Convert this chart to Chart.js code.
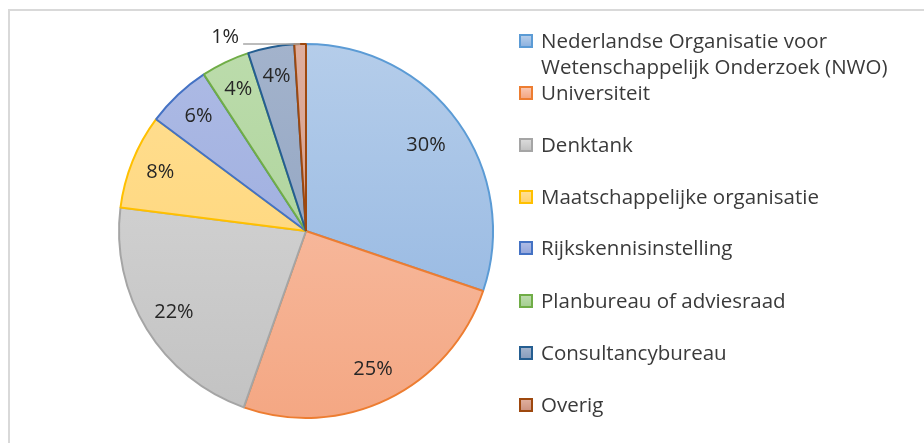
<!DOCTYPE html>
<html>
<head>
<meta charset="utf-8">
<script src="https://cdn.jsdelivr.net/npm/chart.js@4.4.1/dist/chart.umd.min.js"></script>
<style>
  html, body { margin: 0; padding: 0; background: #fff; }
  #wrap { position: relative; width: 924px; height: 443px; overflow: hidden; font-family: "Open Sans", sans-serif; }
  #frame { position: absolute; left: 8px; top: 9px; width: 1000px; height: 1000px; border-top: 2px solid #d9d9d9; border-left: 2px solid #d9d9d9; box-sizing: border-box; }
  #cv { position: absolute; left: 0; top: 0; }
  #legend { position: absolute; left: 519px; top: 0; }
  .item { position: absolute; left: 0; white-space: nowrap; color: #3a3a3a; font-size: 20.5px; line-height: 26px; }
  .box { position: absolute; left: 0; width: 14px; height: 14px; box-sizing: border-box; border: 2px solid; }
  .txt { position: absolute; left: 22px; }
</style>
</head>
<body>
<div id="wrap">
  <div id="frame"></div>
  <canvas id="cv" width="924" height="443"></canvas>
  <div id="legend"></div>
</div>
<script>
// ---- data ----
const categories = [
  "Nederlandse Organisatie voor Wetenschappelijk Onderzoek (NWO)",
  "Universiteit",
  "Denktank",
  "Maatschappelijke organisatie",
  "Rijkskennisinstelling",
  "Planbureau of adviesraad",
  "Consultancybureau",
  "Overig"
];
const legendLines = [
  ["Nederlandse Organisatie voor", "Wetenschappelijk Onderzoek (NWO)"],
  ["Universiteit"],
  ["Denktank"],
  ["Maatschappelijke organisatie"],
  ["Rijkskennisinstelling"],
  ["Planbureau of adviesraad"],
  ["Consultancybureau"],
  ["Overig"]
];
const shares = [30.2, 25.2, 21.6, 8.2, 5.6, 4.2, 4.0, 1.0];

// ---- styles ----
const fillTop    = ["#b5cdea", "#f9c6b0", "#dadada", "#ffdf94", "#aebbe5", "#bcdcac", "#a3b3cc", "#dfae9d"];
const fillBottom = ["#8eb3e0", "#f4a783", "#c2c2c2", "#ffd370", "#95a7dc", "#a6cf92", "#8a9ebd", "#cd9482"];
const borders    = ["#5b9bd5", "#ed7d31", "#a5a5a5", "#ffc000", "#4472c4", "#70ad47", "#255e91", "#9e480e"];
const labelRadiusFactor = [0.79, 0.82, 0.83, 0.84, 0.84, 0.84, 0.84, 0];

// legend (HTML text)
const legend = document.getElementById('legend');
const rowTops = [27, 79, 131, 183, 234, 287, 339, 391];
legendLines.forEach((lines, i) => {
  const it = document.createElement('div');
  it.className = 'item';
  it.style.top = rowTops[i] + 'px';
  const b = document.createElement('div');
  b.className = 'box';
  b.style.top = '7px';
  b.style.borderColor = borders[i];
  b.style.background = 'linear-gradient(' + fillTop[i] + ',' + fillBottom[i] + ')';
  it.appendChild(b);
  const t = document.createElement('div');
  t.className = 'txt';
  t.innerHTML = lines.join('<br>');
  it.appendChild(t);
  legend.appendChild(it);
});

const total = shares.reduce((a, b) => a + b, 0);

const labelPlugin = {
  id: 'pieLabels',
  afterDatasetsDraw(chart) {
    const ctx = chart.ctx;
    const meta = chart.getDatasetMeta(0);
    ctx.save();
    ctx.font = '20px "Open Sans", sans-serif';
    ctx.fillStyle = '#262626';
    ctx.textBaseline = 'middle';
    meta.data.forEach((arc, i) => {
      const pct = Math.round(shares[i] / total * 100) + '%';
      const mid = (arc.startAngle + arc.endAngle) / 2;
      if (labelRadiusFactor[i] > 0) {
        const r = arc.outerRadius * labelRadiusFactor[i];
        ctx.textAlign = 'center';
        ctx.fillText(pct, arc.x + Math.cos(mid) * r, arc.y + Math.sin(mid) * r);
      } else {
        const px = arc.x + Math.cos(mid) * arc.outerRadius;
        const py = arc.y + Math.sin(mid) * arc.outerRadius;
        ctx.strokeStyle = '#a6a6a6';
        ctx.lineWidth = 1.5;
        ctx.beginPath();
        ctx.moveTo(px, py);
        ctx.lineTo(px - 57, py);
        ctx.stroke();
        ctx.textAlign = 'right';
        ctx.fillText(pct, px - 61, py - 7);
      }
    });
    ctx.restore();
  }
};

function grad(i) {
  return (c) => {
    const area = c.chart.chartArea;
    if (!area) return fillBottom[i];
    const g = c.chart.ctx.createLinearGradient(0, area.top, 0, area.bottom);
    g.addColorStop(0, fillTop[i]);
    g.addColorStop(1, fillBottom[i]);
    return g;
  };
}

new Chart(document.getElementById('cv'), {
  type: 'pie',
  data: {
    labels: categories,
    datasets: [{
      data: shares,
      backgroundColor: (c) => grad(c.dataIndex)(c),
      borderColor: borders,
      borderWidth: 2
    }]
  },
  options: {
    responsive: false,
    animation: false,
    layout: { padding: { left: 118, right: 430, top: 43, bottom: 24 } },
    plugins: { legend: { display: false }, tooltip: { enabled: false } }
  },
  plugins: [labelPlugin]
});
</script>
</body>
</html>
